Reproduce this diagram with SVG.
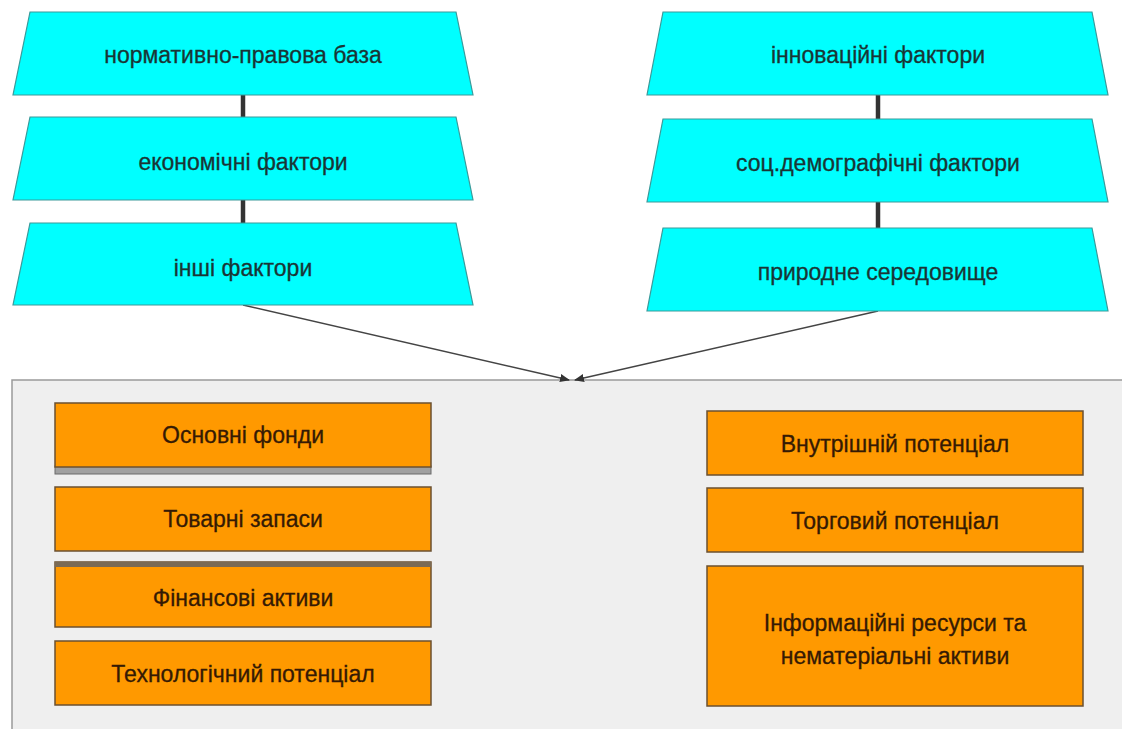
<svg xmlns="http://www.w3.org/2000/svg" width="1122" height="729" viewBox="0 0 1122 729">
<defs>
<style>
.trap{fill:#00ffff;stroke:#3a9a9a;stroke-width:1.2}
.box{fill:#ff9900;stroke:#6b5030;stroke-width:1.5}
.tt{font-family:"Liberation Sans",Arial,sans-serif;font-size:23px;fill:#1a3535;stroke:#1a3535;stroke-width:0.3;text-anchor:middle;dominant-baseline:central}
.bt{font-family:"Liberation Sans",Arial,sans-serif;font-size:23px;fill:#351a04;stroke:#351a04;stroke-width:0.3;text-anchor:middle;dominant-baseline:central}
.link{stroke:#333;stroke-width:4.5}
.arr{stroke:#444;stroke-width:1.5;fill:none}
</style>
<marker id="ah" markerWidth="10" markerHeight="10" refX="9" refY="5" orient="auto" markerUnits="userSpaceOnUse">
<path d="M0,1 L10,5 L0,9 Z" fill="#333"/>
</marker>
</defs>
<rect width="1122" height="729" fill="#ffffff"/>
<g id="container">
<rect x="12" y="380" width="1115" height="355" fill="#efefef" stroke="#9a9a9a" stroke-width="1.5"/>
</g>
<g id="connectors">
<line class="link" x1="243" y1="95" x2="243" y2="117"/>
<line class="link" x1="243" y1="200" x2="243" y2="223"/>
<line class="link" x1="878" y1="95" x2="878" y2="119"/>
<line class="link" x1="878" y1="202" x2="878" y2="228"/>
<line class="arr" x1="243" y1="305" x2="569" y2="380" marker-end="url(#ah)"/>
<line class="arr" x1="878" y1="311" x2="575" y2="380" marker-end="url(#ah)"/>
</g>
<g id="n-normatyvno">
<polygon class="trap" points="30,12 456,12 473,95 13,95"/>
<text class="tt" x="243" y="55">нормативно-правова база</text>
</g>
<g id="n-ekonomichni">
<polygon class="trap" points="30,117 456,117 473,200 13,200"/>
<text class="tt" x="243" y="162">економічні фактори</text>
</g>
<g id="n-inshi">
<polygon class="trap" points="30,223 456,223 473,305 13,305"/>
<text class="tt" x="243" y="268">інші фактори</text>
</g>
<g id="n-innovatsiini">
<polygon class="trap" points="663,12 1092,12 1108,95 647,95"/>
<text class="tt" x="878" y="55">інноваційні фактори</text>
</g>
<g id="n-sotsdemo">
<polygon class="trap" points="663,119 1092,119 1108,202 647,202"/>
<text class="tt" x="878" y="163">соц.демографічні фактори</text>
</g>
<g id="n-pryrodne">
<polygon class="trap" points="663,228 1092,228 1108,311 647,311"/>
<text class="tt" x="878" y="272">природне середовище</text>
</g>
<g id="n-osnovni">
<rect x="55" y="466" width="376" height="8" fill="#a0a0a0" stroke="#6b6b6b" stroke-width="1"/>
<rect class="box" x="55" y="403" width="376" height="64"/>
<text class="bt" x="243" y="435">Основні фонди</text>
</g>
<g id="n-tovarni">
<rect class="box" x="55" y="487" width="376" height="64"/>
<text class="bt" x="243" y="519">Товарні запаси</text>
</g>
<g id="n-finansovi">
<rect class="box" x="55" y="562" width="376" height="65"/>
<rect x="55" y="562" width="376" height="5" fill="#7a6a55"/>
<text class="bt" x="243" y="598">Фінансові активи</text>
</g>
<g id="n-tekhnolohichnyi">
<rect class="box" x="55" y="641" width="376" height="64"/>
<text class="bt" x="243" y="674">Технологічний потенціал</text>
</g>
<g id="n-vnutrishnii">
<rect class="box" x="707" y="411" width="376" height="64"/>
<text class="bt" x="895" y="444">Внутрішній потенціал</text>
</g>
<g id="n-torhovyi">
<rect class="box" x="707" y="488" width="376" height="64"/>
<text class="bt" x="895" y="521">Торговий потенціал</text>
</g>
<g id="n-informatsiini">
<rect class="box" x="707" y="566" width="376" height="140"/>
<text class="bt" x="895" y="623">Інформаційні ресурси та</text>
<text class="bt" x="895" y="656">нематеріальні активи</text>
</g>
</svg>
